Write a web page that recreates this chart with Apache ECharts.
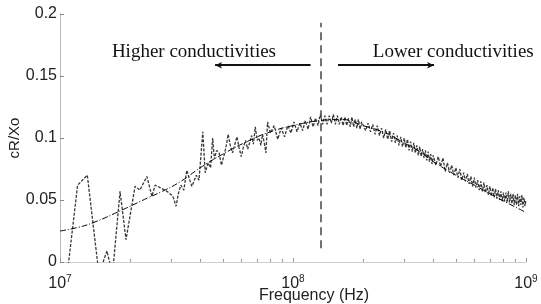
<!DOCTYPE html>
<html>
<head>
<meta charset="utf-8">
<script src="https://cdn.jsdelivr.net/npm/echarts@6/dist/echarts.min.js"></script>
<style>
html, body { margin: 0; padding: 0; background: #fff; }
#box { width: 541px; height: 304px; }
</style>
</head>
<body>
<div id="box"></div>
<script>
// fitted curve (Hz / ratio)
var fitFreq = [1.0e7, 1.2e7, 1.4e7, 1.85e7, 2.4e7, 2.75e7, 3.3e7, 4.0e7, 5.0e7, 6.5e7, 8.0e7, 1.0e8,
    1.3e8, 1.6e8, 2.0e8, 2.5e8, 3.0e8, 3.5e8, 4.0e8, 5.0e8, 6.0e8, 7.5e8, 1.0e9];
var fitValue = [0.025, 0.028, 0.032, 0.042, 0.052, 0.057, 0.065, 0.076, 0.087, 0.098, 0.105, 0.110,
    0.114, 0.115, 0.110, 0.104, 0.096, 0.089, 0.081, 0.070, 0.062, 0.052, 0.040];

// measured data, frequency in MHz
var measFreq = [
    10, 11.9, 13.1, 14.7, 15.9, 16.8, 18.1, 19.2, 21.0, 22.0, 23.6, 24.8, 25.6, 26.9, 28.8, 30.5, 31.5, 32.2,
    33.0, 34.0, 35.0, 36.2, 36.8, 38.5, 39.5, 41.0, 42.0, 43.2, 44.3, 45.2, 46.0, 47.0, 48.2, 49.3, 50.4, 51.5,
    52.7, 53.8, 55.0, 56.3, 57.5, 58.7, 60.0, 61.3, 62.6, 63.9, 65.1, 66.4, 67.6, 68.9, 70.2, 71.5, 72.8, 74.0,
    75.3, 76.5, 77.8,
    80, 83, 86, 89, 92, 95, 98, 101, 104, 107, 110, 113, 116, 119, 122, 125, 128, 131, 134, 137,
    140, 143, 146, 149, 152, 155, 158, 161, 164, 167, 170, 173, 176, 179, 182, 185, 188, 191, 194, 197,
    200, 205, 210, 215, 220, 225, 230, 235, 240, 245, 250, 255, 260, 265, 270, 275, 280, 285, 290, 295,
    300, 305, 310, 315, 320, 325, 330, 335, 340, 345, 350, 355, 360, 365, 370, 375, 380, 385, 390, 395, 400,
    410, 420, 430, 440, 450, 460, 470, 480, 490, 500, 510, 520, 530, 540, 550, 560, 570, 580, 590, 600,
    610, 620, 630, 640, 650, 660, 670, 680, 690, 700, 710, 720, 730, 740, 750, 760, 770, 780, 790, 800,
    810, 820, 830, 840, 850, 860, 870, 880, 890, 900, 910, 920, 930, 940, 950, 960, 970, 980, 990, 1000
];
var measValue = [
    -0.06, 0.062, 0.070, -0.01, 0.009, -0.01, 0.057, 0.018, 0.061, 0.058, 0.069, 0.053, 0.062, 0.060, 0.057, 0.053, 0.045, 0.055,
    0.062, 0.058, 0.074, 0.065, 0.061, 0.070, 0.066, 0.105, 0.072, 0.080, 0.076, 0.100, 0.083, 0.090, 0.088, 0.078, 0.085, 0.092,
    0.103, 0.094, 0.088, 0.095, 0.101, 0.092, 0.085, 0.093, 0.098, 0.091, 0.096, 0.102, 0.095, 0.109, 0.098, 0.100, 0.094, 0.103,
    0.096, 0.088, 0.113,
    0.104, 0.110, 0.099, 0.108, 0.101, 0.110, 0.104, 0.113, 0.105, 0.112, 0.106, 0.114, 0.107, 0.117, 0.109, 0.116, 0.110, 0.119, 0.111, 0.118,
    0.111, 0.118, 0.112, 0.119, 0.111, 0.118, 0.111, 0.117, 0.110, 0.117, 0.110, 0.116, 0.109, 0.117, 0.109, 0.115, 0.108, 0.115, 0.107, 0.113,
    0.113, 0.106, 0.112, 0.105, 0.111, 0.103, 0.110, 0.102, 0.108, 0.100, 0.107, 0.099, 0.106, 0.097, 0.104, 0.096, 0.102, 0.094, 0.101, 0.093,
    0.100, 0.092, 0.099, 0.090, 0.097, 0.089, 0.096, 0.088, 0.094, 0.086, 0.093, 0.085, 0.091, 0.084, 0.090, 0.082, 0.089, 0.081, 0.087, 0.079, 0.086,
    0.078, 0.085, 0.077, 0.084, 0.073, 0.080, 0.072, 0.078, 0.070, 0.076, 0.068, 0.075, 0.066, 0.072, 0.065, 0.071, 0.063, 0.069, 0.061, 0.068,
    0.060, 0.066, 0.058, 0.065, 0.057, 0.064, 0.056, 0.062, 0.054, 0.061, 0.053, 0.060, 0.052, 0.059, 0.051, 0.058, 0.050, 0.057, 0.049, 0.056,
    0.049, 0.056, 0.048, 0.057, 0.048, 0.055, 0.047, 0.055, 0.046, 0.054, 0.046, 0.055, 0.045, 0.053, 0.046, 0.054, 0.044, 0.052, 0.045, 0.050
];

// minor ticks on the frequency axis
var minorTickFreqs = [2e7, 3e7, 4e7, 5e7, 6e7, 7e7, 8e7, 9e7, 2e8, 3e8, 4e8, 5e8, 6e8, 7e8, 8e8, 9e8];
var minorTickLen = 0.0025;

// annotations
var dividerFreq = 1.31e8;
var dividerRange = [0.011, 0.193];
var arrowY = 0.1587;
var higherArrow = [1.19e8, 4.63e7];
var lowerArrow = [1.56e8, 4.03e8];
var textY = 0.1692;
var higherText = { name: 'Higher conductivities', freq: 1.67e7 };
var lowerText = { name: 'Lower conductivities', freq: 2.2e8 };

var chart = echarts.init(document.getElementById('box'));

var fitData = fitFreq.map(function (f, i) { return [f, fitValue[i]]; });
var measData = measFreq.map(function (f, i) { return [f * 1e6, measValue[i]]; });
var minorTickLines = minorTickFreqs.map(function (f) {
    return [{ coord: [f, 0] }, { coord: [f, minorTickLen] }];
});

var labelFont = 'Liberation Sans';

var option = {
    animation: false,
    grid: { left: 60, right: 15, top: 14, bottom: 42, outerBoundsMode: 'none' },
    xAxis: {
        type: 'log',
        logBase: 10,
        min: 1e7,
        max: 1e9,
        name: 'Frequency (Hz)',
        nameLocation: 'middle',
        nameGap: 26,
        nameMoveOverlap: false,
        nameTextStyle: { fontFamily: labelFont, fontSize: 16, color: '#222', padding: [0, 0, 0, 42] },
        axisLine: { lineStyle: { color: '#d0d0d0' } },
        axisTick: { inside: true, length: 4, lineStyle: { color: '#999' } },
        splitLine: { show: false },
        axisLabel: {
            margin: 12,
            formatter: function (v) {
                return '{b|10}{s|' + Math.round(Math.log10(v)) + '}';
            },
            rich: {
                b: { fontFamily: labelFont, fontSize: 16, color: '#222' },
                s: { fontFamily: labelFont, fontSize: 10, color: '#222', verticalAlign: 'top', padding: [0, 0, 10, 0] }
            }
        }
    },
    yAxis: {
        type: 'value',
        min: 0,
        max: 0.2,
        interval: 0.05,
        name: 'cR/Xo',
        nameLocation: 'middle',
        nameGap: 38,
        nameMoveOverlap: false,
        nameTextStyle: { fontFamily: labelFont, fontSize: 15, color: '#222' },
        axisLine: { show: true, lineStyle: { color: '#bbb' } },
        axisTick: { show: true, inside: true, length: 4, lineStyle: { color: '#888' } },
        splitLine: { show: false },
        axisLabel: { margin: 3, fontFamily: labelFont, fontSize: 16, color: '#222' }
    },
    series: [
        {
            name: 'measured',
            type: 'line',
            data: measData,
            showSymbol: false,
            z: 2,
            lineStyle: { color: '#383838', width: 1.3, type: [3, 1.5] },
            markLine: {
                silent: true,
                animation: false,
                label: { show: false },
                symbol: 'none',
                lineStyle: { color: '#999', width: 1, type: 'solid' },
                data: minorTickLines
            }
        },
        {
            name: 'fit',
            type: 'line',
            data: fitData,
            smooth: true,
            showSymbol: false,
            z: 3,
            lineStyle: { color: '#000', width: 1, type: [6, 2, 1, 2] },
            markLine: {
                silent: true,
                animation: false,
                label: { show: false },
                symbol: 'none',
                data: [
                    [
                        { coord: [dividerFreq, dividerRange[0]], lineStyle: { color: '#444', width: 1.5, type: [8, 5] } },
                        { coord: [dividerFreq, dividerRange[1]] }
                    ],
                    [
                        { coord: [higherArrow[0], arrowY], symbol: 'none', lineStyle: { color: '#111', width: 2, type: 'solid' } },
                        { coord: [higherArrow[1], arrowY], symbol: 'arrow', symbolSize: [5, 7] }
                    ],
                    [
                        { coord: [lowerArrow[0], arrowY], symbol: 'none', lineStyle: { color: '#111', width: 2, type: 'solid' } },
                        { coord: [lowerArrow[1], arrowY], symbol: 'arrow', symbolSize: [5, 7] }
                    ]
                ]
            },
            markPoint: {
                silent: true,
                symbolSize: 0,
                label: {
                    show: true,
                    position: 'right',
                    distance: 0,
                    formatter: '{b}',
                    fontFamily: 'Liberation Serif',
                    fontSize: 19,
                    color: '#111'
                },
                data: [
                    { name: higherText.name, coord: [higherText.freq, textY] },
                    { name: lowerText.name, coord: [lowerText.freq, textY] }
                ]
            }
        }
    ]
};

chart.setOption(option);
</script>
</body>
</html>
